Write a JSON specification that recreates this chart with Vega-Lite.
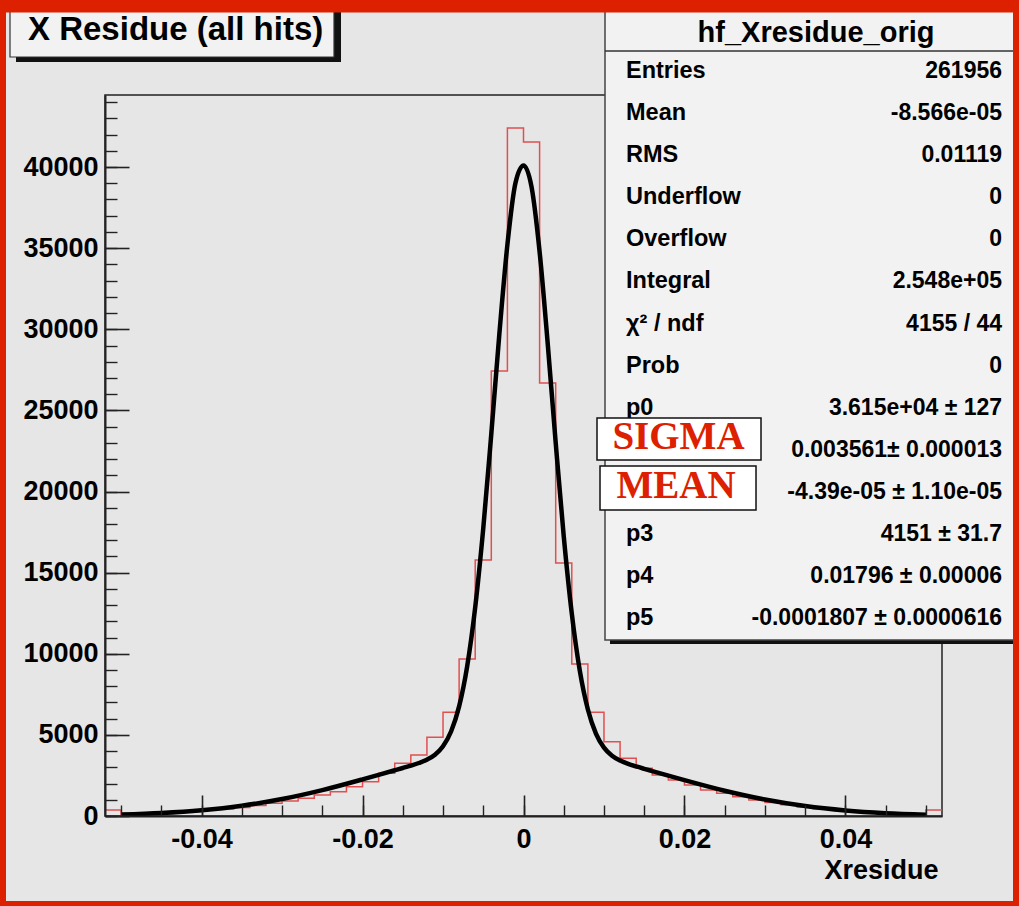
{
  "$schema": "https://vega.github.io/schema/vega-lite/v6.json",
  "width": 837,
  "height": 721,
  "autosize": {"type": "none"},
  "padding": {"left": 105, "top": 95, "right": 77, "bottom": 90},
  "background": "#e6e6e6",
  "config": {"view": {"stroke": "#222", "strokeWidth": 1.5}},
  "resolve": {"scale": {"y": "independent"}, "axis": {"x": "independent", "y": "independent"}},
  "layer": [
    {
      "data": {"values": [{}]},
      "mark": {"type": "rect", "fill": "#111"},
      "encoding": {
        "x": {"datum": -0.063059, "type": "quantitative", "scale": {"domain": [-0.052, 0.052], "nice": false, "zero": false}, "axis": null},
        "x2": {"datum": -0.022676},
        "y": {"datum": 49679, "type": "quantitative", "scale": {"domain": [0, 44440], "nice": false, "zero": false}, "axis": null},
        "y2": {"datum": 46474}
      }
    },
    {
      "data": {"values": [{}]},
      "mark": {"type": "rect", "fill": "#f2f2f2", "stroke": "#333", "strokeWidth": 1.2},
      "encoding": {
        "x": {"datum": -0.063804, "type": "quantitative", "scale": {"domain": [-0.052, 0.052], "nice": false, "zero": false}, "axis": null},
        "x2": {"datum": -0.023546},
        "y": {"datum": 49987, "type": "quantitative", "scale": {"domain": [0, 44440], "nice": false, "zero": false}, "axis": null},
        "y2": {"datum": 46782}
      }
    },
    {
      "data": {"values": [{}]},
      "mark": {"type": "text", "text": "X Residue (all hits)", "font": "Liberation Sans", "fontWeight": "bold", "fontSize": 33, "align": "left", "baseline": "alphabetic", "color": "#000"},
      "encoding": {
        "x": {"datum": -0.061568, "type": "quantitative", "scale": {"domain": [-0.052, 0.052], "nice": false, "zero": false}, "axis": null},
        "y": {"datum": 47860, "type": "quantitative", "scale": {"domain": [0, 44440], "nice": false, "zero": false}, "axis": null}
      }
    },
    {
      "data": {"values": [
        {"x": -0.052, "count": 370}, {"x": -0.050, "count": 100}, {"x": -0.048, "count": 130}, {"x": -0.046, "count": 170},
        {"x": -0.044, "count": 220}, {"x": -0.042, "count": 280}, {"x": -0.040, "count": 350}, {"x": -0.038, "count": 430},
        {"x": -0.036, "count": 530}, {"x": -0.034, "count": 650}, {"x": -0.032, "count": 780}, {"x": -0.030, "count": 920},
        {"x": -0.028, "count": 1090}, {"x": -0.026, "count": 1290}, {"x": -0.024, "count": 1500}, {"x": -0.022, "count": 1810},
        {"x": -0.020, "count": 2110}, {"x": -0.018, "count": 2630}, {"x": -0.016, "count": 3250}, {"x": -0.014, "count": 3760},
        {"x": -0.012, "count": 4850}, {"x": -0.010, "count": 6400}, {"x": -0.008, "count": 9680}, {"x": -0.006, "count": 15780},
        {"x": -0.004, "count": 27430}, {"x": -0.002, "count": 42400}, {"x": 0.000, "count": 41540}, {"x": 0.002, "count": 26690},
        {"x": 0.004, "count": 15590}, {"x": 0.006, "count": 9370}, {"x": 0.008, "count": 6400}, {"x": 0.010, "count": 4580},
        {"x": 0.012, "count": 3560}, {"x": 0.014, "count": 2950}, {"x": 0.016, "count": 2530}, {"x": 0.018, "count": 2220},
        {"x": 0.020, "count": 1910}, {"x": 0.022, "count": 1600}, {"x": 0.024, "count": 1400}, {"x": 0.026, "count": 1190},
        {"x": 0.028, "count": 990}, {"x": 0.030, "count": 830}, {"x": 0.032, "count": 690}, {"x": 0.034, "count": 560},
        {"x": 0.036, "count": 450}, {"x": 0.038, "count": 360}, {"x": 0.040, "count": 290}, {"x": 0.042, "count": 230},
        {"x": 0.044, "count": 180}, {"x": 0.046, "count": 140}, {"x": 0.048, "count": 110}, {"x": 0.050, "count": 370},
        {"x": 0.052, "count": 370}
      ]},
      "mark": {"type": "line", "interpolate": "step-after", "color": "#e05050", "strokeWidth": 1.5},
      "encoding": {
        "x": {"field": "x", "type": "quantitative", "scale": {"domain": [-0.052, 0.052], "nice": false, "zero": false},
          "axis": {"orient": "bottom", "values": [-0.04, -0.02, 0, 0.02, 0.04], "ticks": false, "grid": false, "domain": true, "domainColor": "#222", "domainWidth": 2,
            "labelExpr": "'' + datum.value", "labelFont": "Liberation Sans", "labelFontWeight": "bold", "labelFontSize": 27, "labelColor": "#000", "labelPadding": 10, "labelFlush": false, "labelOverlap": false,
            "title": "Xresidue", "titleX": 833, "titleY": 62, "titleAlign": "right", "titleBaseline": "alphabetic", "titleAngle": 0, "titleFont": "Liberation Sans", "titleFontWeight": "bold", "titleFontSize": 27, "titleColor": "#000", "zindex": 1}},
        "y": {"field": "count", "type": "quantitative", "scale": {"domain": [0, 44440], "nice": false, "zero": false},
          "axis": {"orient": "left", "values": [0, 5000, 10000, 15000, 20000, 25000, 30000, 35000, 40000], "ticks": false, "grid": false, "domain": true, "domainColor": "#222", "domainWidth": 2,
            "labelExpr": "'' + datum.value", "labelFont": "Liberation Sans", "labelFontWeight": "bold", "labelFontSize": 27, "labelColor": "#000", "labelPadding": 7, "labelFlush": false, "labelOverlap": false, "title": null, "zindex": 1}}
      }
    },
    {
      "data": {"values": [
        {"x": -0.05, "f": 89}, {"x": -0.045, "f": 184}, {"x": -0.04, "f": 355}, {"x": -0.035, "f": 634}, {"x": -0.03, "f": 1046},
        {"x": -0.025, "f": 1597}, {"x": -0.02, "f": 2258}, {"x": -0.018, "f": 2537}, {"x": -0.016, "f": 2818}, {"x": -0.015, "f": 2959},
        {"x": -0.014, "f": 3104}, {"x": -0.013, "f": 3266}, {"x": -0.012, "f": 3472}, {"x": -0.011, "f": 3780}, {"x": -0.010, "f": 4300},
        {"x": -0.009, "f": 5209}, {"x": -0.008, "f": 6756}, {"x": -0.007, "f": 9226}, {"x": -0.006, "f": 12864}, {"x": -0.005, "f": 17728},
        {"x": -0.004, "f": 23562}, {"x": -0.003, "f": 29714}, {"x": -0.002, "f": 35217}, {"x": -0.001, "f": 39017}, {"x": 0, "f": 40100},
        {"x": 0.001, "f": 38772}, {"x": 0.002, "f": 34780}, {"x": 0.003, "f": 29173}, {"x": 0.004, "f": 23010}, {"x": 0.005, "f": 17239},
        {"x": 0.006, "f": 12475}, {"x": 0.007, "f": 8942}, {"x": 0.008, "f": 6561}, {"x": 0.009, "f": 5079}, {"x": 0.010, "f": 4212},
        {"x": 0.011, "f": 3715}, {"x": 0.012, "f": 3417}, {"x": 0.013, "f": 3215}, {"x": 0.014, "f": 3055}, {"x": 0.015, "f": 2909},
        {"x": 0.016, "f": 2768}, {"x": 0.018, "f": 2487}, {"x": 0.02, "f": 2208}, {"x": 0.025, "f": 1554}, {"x": 0.03, "f": 1012},
        {"x": 0.035, "f": 610}, {"x": 0.04, "f": 340}, {"x": 0.045, "f": 175}, {"x": 0.05, "f": 84}
      ]},
      "mark": {"type": "line", "interpolate": "monotone", "color": "#000", "strokeWidth": 4.5},
      "encoding": {
        "x": {"field": "x", "type": "quantitative", "scale": {"domain": [-0.052, 0.052], "nice": false, "zero": false},
          "axis": {"orient": "bottom", "values": [-0.04, -0.02, 0, 0.02, 0.04], "labels": false, "domain": false, "grid": false, "ticks": true, "tickSize": -21, "tickColor": "#222", "tickWidth": 1.6, "title": null, "zindex": 1}},
        "y": {"field": "f", "type": "quantitative", "scale": {"domain": [0, 44440], "nice": false, "zero": false},
          "axis": {"orient": "left", "values": [0, 5000, 10000, 15000, 20000, 25000, 30000, 35000, 40000], "labels": false, "domain": false, "grid": false, "ticks": true, "tickSize": -24, "tickColor": "#222", "tickWidth": 1.6, "title": null, "zindex": 1}}
      }
    },
    {
      "data": {"values": [{}]},
      "mark": {"type": "rect", "fill": "#111"},
      "encoding": {
        "x": {"datum": 0.010748, "type": "quantitative", "scale": {"domain": [-0.052, 0.052], "nice": false, "zero": false},
          "axis": {"orient": "bottom", "values": [-0.05, -0.045, -0.04, -0.035, -0.03, -0.025, -0.02, -0.015, -0.01, -0.005, 0, 0.005, 0.01, 0.015, 0.02, 0.025, 0.03, 0.035, 0.04, 0.045, 0.05], "labels": false, "domain": false, "grid": false, "ticks": true, "tickSize": -11, "tickColor": "#222", "tickWidth": 1.4, "title": null, "zindex": 1}},
        "x2": {"datum": 0.062313},
        "y": {"datum": 49679, "type": "quantitative", "scale": {"domain": [0, 44440], "nice": false, "zero": false},
          "axis": {"orient": "left", "values": [0, 1000, 2000, 3000, 4000, 5000, 6000, 7000, 8000, 9000, 10000, 11000, 12000, 13000, 14000, 15000, 16000, 17000, 18000, 19000, 20000, 21000, 22000, 23000, 24000, 25000, 26000, 27000, 28000, 29000, 30000, 31000, 32000, 33000, 34000, 35000, 36000, 37000, 38000, 39000, 40000, 41000, 42000, 43000, 44000], "labels": false, "domain": false, "grid": false, "ticks": true, "tickSize": -12, "tickColor": "#222", "tickWidth": 1.4, "title": null, "zindex": 1}},
        "y2": {"datum": 10601}
      }
    },
    {
      "data": {"values": [{}]},
      "mark": {"type": "rect", "fill": "#f2f2f2", "stroke": "#444", "strokeWidth": 1.5},
      "encoding": {
        "x": {"datum": 0.010127, "type": "quantitative", "scale": {"domain": [-0.052, 0.052], "nice": false, "zero": false}, "axis": null},
        "x2": {"datum": 0.061444},
        "y": {"datum": 49987, "type": "quantitative", "scale": {"domain": [0, 44440], "nice": false, "zero": false}, "axis": null},
        "y2": {"datum": 10848}
      }
    },
    {
      "data": {"values": [{}]},
      "mark": {"type": "rule", "color": "#333", "strokeWidth": 1.5},
      "encoding": {
        "x": {"datum": 0.010127, "type": "quantitative", "scale": {"domain": [-0.052, 0.052], "nice": false, "zero": false}, "axis": null},
        "x2": {"datum": 0.061444},
        "y": {"datum": 47152, "type": "quantitative", "scale": {"domain": [0, 44440], "nice": false, "zero": false}, "axis": null}
      }
    },
    {
      "data": {"values": [{}]},
      "mark": {"type": "text", "text": "hf_Xresidue_orig", "font": "Liberation Sans", "fontWeight": "bold", "fontSize": 29, "align": "center", "baseline": "alphabetic", "color": "#000"},
      "encoding": {
        "x": {"datum": 0.036345, "type": "quantitative", "scale": {"domain": [-0.052, 0.052], "nice": false, "zero": false}, "axis": null},
        "y": {"datum": 47706, "type": "quantitative", "scale": {"domain": [0, 44440], "nice": false, "zero": false}, "axis": null}
      }
    },
    {
      "data": {"name": "stats", "values": [
        {"row": 1, "k": "Entries", "v": "261956"},
        {"row": 2, "k": "Mean", "v": "-8.566e-05"},
        {"row": 3, "k": "RMS", "v": "0.01119"},
        {"row": 4, "k": "Underflow", "v": "0"},
        {"row": 5, "k": "Overflow", "v": "0"},
        {"row": 6, "k": "Integral", "v": "2.548e+05"},
        {"row": 7, "k": "χ² / ndf", "v": "4155 / 44"},
        {"row": 8, "k": "Prob", "v": "0"},
        {"row": 9, "k": "p0", "v": "3.615e+04 ± 127"},
        {"row": 10, "k": "", "v": "0.003561± 0.000013"},
        {"row": 11, "k": "", "v": "-4.39e-05 ± 1.10e-05"},
        {"row": 12, "k": "p3", "v": "4151 ± 31.7"},
        {"row": 13, "k": "p4", "v": "0.01796 ± 0.00006"},
        {"row": 14, "k": "p5", "v": "-0.0001807 ± 0.0000616"}
      ]},
      "mark": {"type": "text", "font": "Liberation Sans", "fontWeight": "bold", "fontSize": 23.5, "align": "left", "baseline": "alphabetic", "color": "#000"},
      "encoding": {
        "x": {"datum": 0.012737, "type": "quantitative", "scale": {"domain": [-0.052, 0.052], "nice": false, "zero": false}, "axis": null},
        "y": {"field": "row", "type": "quantitative", "scale": {"domain": [1.4038, 18.53], "reverse": true, "nice": false, "zero": false}, "axis": null},
        "text": {"field": "k"}
      }
    },
    {
      "data": {"name": "stats"},
      "mark": {"type": "text", "font": "Liberation Sans", "fontWeight": "bold", "fontSize": 23, "align": "right", "baseline": "alphabetic", "color": "#000"},
      "encoding": {
        "x": {"datum": 0.059458, "type": "quantitative", "scale": {"domain": [-0.052, 0.052], "nice": false, "zero": false}, "axis": null},
        "y": {"field": "row", "type": "quantitative", "scale": {"domain": [1.4038, 18.53], "reverse": true, "nice": false, "zero": false}, "axis": null},
        "text": {"field": "v"}
      }
    },
    {
      "data": {"values": [{}]},
      "mark": {"type": "rect", "fill": "#ffffff", "stroke": "#111", "strokeWidth": 1.5},
      "encoding": {
        "x": {"datum": 0.009133, "type": "quantitative", "scale": {"domain": [-0.052, 0.052], "nice": false, "zero": false}, "axis": null},
        "x2": {"datum": 0.029511},
        "y": {"datum": 24531, "type": "quantitative", "scale": {"domain": [0, 44440], "nice": false, "zero": false}, "axis": null},
        "y2": {"datum": 21942}
      }
    },
    {
      "data": {"values": [{}]},
      "mark": {"type": "text", "text": "SIGMA", "font": "Liberation Serif", "fontWeight": "bold", "fontSize": 39, "align": "center", "baseline": "alphabetic", "color": "#dc2000"},
      "encoding": {
        "x": {"datum": 0.01926, "type": "quantitative", "scale": {"domain": [-0.052, 0.052], "nice": false, "zero": false}, "axis": null},
        "y": {"datum": 22620, "type": "quantitative", "scale": {"domain": [0, 44440], "nice": false, "zero": false}, "axis": null}
      }
    },
    {
      "data": {"values": [{}]},
      "mark": {"type": "rect", "fill": "#ffffff", "stroke": "#111", "strokeWidth": 1.5},
      "encoding": {
        "x": {"datum": 0.009506, "type": "quantitative", "scale": {"domain": [-0.052, 0.052], "nice": false, "zero": false}, "axis": null},
        "x2": {"datum": 0.02889},
        "y": {"datum": 21573, "type": "quantitative", "scale": {"domain": [0, 44440], "nice": false, "zero": false}, "axis": null},
        "y2": {"datum": 18861}
      }
    },
    {
      "data": {"values": [{}]},
      "mark": {"type": "text", "text": "MEAN", "font": "Liberation Serif", "fontWeight": "bold", "fontSize": 39, "align": "center", "baseline": "alphabetic", "color": "#dc2000"},
      "encoding": {
        "x": {"datum": 0.01895, "type": "quantitative", "scale": {"domain": [-0.052, 0.052], "nice": false, "zero": false}, "axis": null},
        "y": {"datum": 19600, "type": "quantitative", "scale": {"domain": [0, 44440], "nice": false, "zero": false}, "axis": null}
      }
    },
    {
      "data": {"values": [{}]},
      "mark": {"type": "rect", "fill": "#dc2000"},
      "encoding": {
        "x": {"datum": -0.07, "type": "quantitative", "scale": {"domain": [-0.052, 0.052], "nice": false, "zero": false}, "axis": null},
        "x2": {"datum": 0.07},
        "y": {"datum": 51000, "type": "quantitative", "scale": {"domain": [0, 44440], "nice": false, "zero": false}, "axis": null},
        "y2": {"datum": 49525}
      }
    },
    {
      "data": {"values": [{}]},
      "mark": {"type": "rect", "fill": "#dc2000"},
      "encoding": {
        "x": {"datum": -0.07, "type": "quantitative", "scale": {"domain": [-0.052, 0.052], "nice": false, "zero": false}, "axis": null},
        "x2": {"datum": 0.07},
        "y": {"datum": -5239, "type": "quantitative", "scale": {"domain": [0, 44440], "nice": false, "zero": false}, "axis": null},
        "y2": {"datum": -6000}
      }
    },
    {
      "data": {"values": [{}]},
      "mark": {"type": "rect", "fill": "#dc2000"},
      "encoding": {
        "x": {"datum": -0.0665, "type": "quantitative", "scale": {"domain": [-0.052, 0.052], "nice": false, "zero": false}, "axis": null},
        "x2": {"datum": -0.064301},
        "y": {"datum": -6000, "type": "quantitative", "scale": {"domain": [0, 44440], "nice": false, "zero": false}, "axis": null},
        "y2": {"datum": 51000}
      }
    },
    {
      "data": {"values": [{}]},
      "mark": {"type": "rect", "fill": "#dc2000"},
      "encoding": {
        "x": {"datum": 0.060823, "type": "quantitative", "scale": {"domain": [-0.052, 0.052], "nice": false, "zero": false}, "axis": null},
        "x2": {"datum": 0.0625},
        "y": {"datum": -6000, "type": "quantitative", "scale": {"domain": [0, 44440], "nice": false, "zero": false}, "axis": null},
        "y2": {"datum": 51000}
      }
    }
  ]
}
